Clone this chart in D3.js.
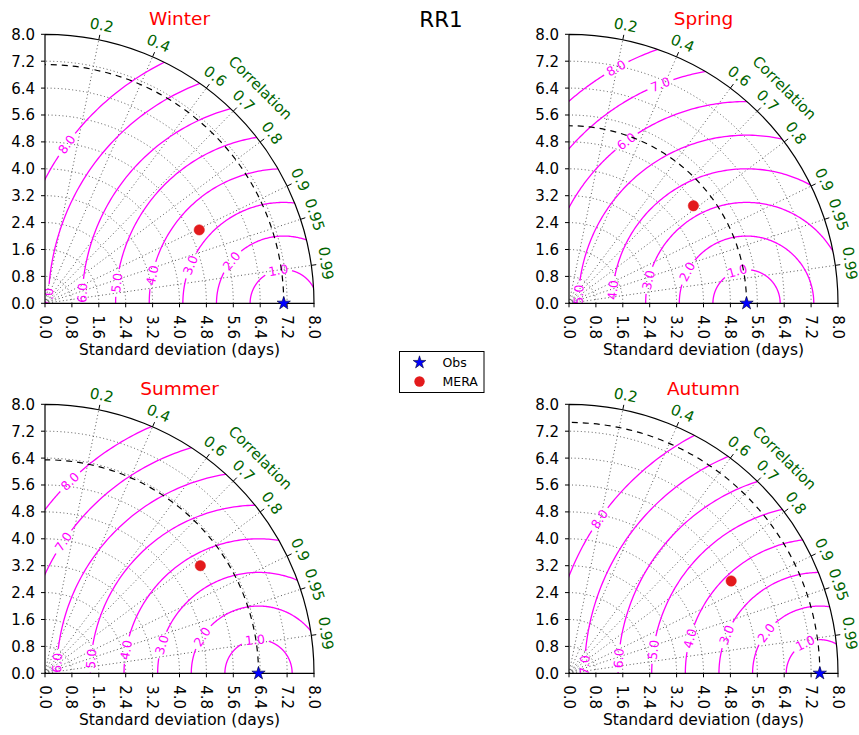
<!DOCTYPE html>
<html>
<head>
<meta charset="utf-8">
<script src="https://cdn.jsdelivr.net/npm/d3@7"></script>
<style>
  body { margin: 0; background: #fff; }
  svg { font-family: "DejaVu Sans", sans-serif; }
</style>
</head>
<body>
<svg id="chart" width="859" height="735"></svg>
<script>
// --- data ---
var seasons = ["Winter", "Spring", "Summer", "Autumn"];
var obsStd = [7.10, 5.28, 6.35, 7.46];
var meraStd = [5.08, 4.70, 5.62, 5.55];
var meraCorr = [0.903, 0.787, 0.822, 0.869];
var stdTicks = [0.0, 0.8, 1.6, 2.4, 3.2, 4.0, 4.8, 5.6, 6.4, 7.2, 8.0];
var corrTicks = [0.2, 0.4, 0.6, 0.7, 0.8, 0.9, 0.95, 0.99];
var rmsLevels = [1.0, 2.0, 3.0, 4.0, 5.0, 6.0, 7.0, 8.0];

// where the inline contour labels sit (angle around the Obs point, degrees)
var labelAngles = [
    [99.5, 141, 157.8, 168, 173, 177, 178.7, 143.8],
    [106, 152, 166.7, 174.3, 177, 126.6, 111.5, 119],
    [96, 147, 163.6, 170, 175, 177, 146, 134.5],
    [116, 143, 157.6, 165, 172, 175.7, 178, 145]
];

var svg = d3.select("#chart");
var R = 269;
var smax = 8.0;
var origins = [[45, 303.3], [569, 303.3], [45, 673.3], [569, 673.3]];
var r = d3.scaleLinear().domain([0, smax]).range([0, R]);
var magenta = "#ff00ff", green = "#006400";

svg.append("text")
    .attr("x", 441).attr("y", 27)
    .attr("text-anchor", "middle")
    .attr("font-size", 21.5)
    .text("RR1");

// screen position for data point (x, y) in std units
function pt(x, y) { return [r(x), -r(y)]; }

seasons.forEach(function (name, i) {
    var g = svg.append("g")
        .attr("transform", "translate(" + origins[i][0] + "," + origins[i][1] + ")");
    var ref = obsStd[i];

    // clip to quarter disk
    var clipId = "clip" + i;
    g.append("clipPath").attr("id", clipId)
        .append("path")
        .attr("d", "M0,0 L" + R + ",0 A" + R + "," + R + " 0 0,0 0," + (-R) + " Z");
    var inner = g.append("g").attr("clip-path", "url(#" + clipId + ")");

    // grid: std arcs
    stdTicks.filter(function (s) { return s > 0 && s < smax; }).forEach(function (s) {
        inner.append("path")
            .attr("d", "M" + r(s) + ",0 A" + r(s) + "," + r(s) + " 0 0,0 0," + (-r(s)))
            .attr("fill", "none").attr("stroke", "#444")
            .attr("stroke-width", 0.9).attr("stroke-dasharray", "1,2.6");
    });
    // grid: correlation rays
    corrTicks.forEach(function (c) {
        var th = Math.acos(c);
        inner.append("line")
            .attr("x1", 0).attr("y1", 0)
            .attr("x2", R * Math.cos(th)).attr("y2", -R * Math.sin(th))
            .attr("stroke", "#444").attr("stroke-width", 0.9)
            .attr("stroke-dasharray", "1,2.6");
    });

    // RMS contours with inline labels
    var line = d3.line();
    rmsLevels.forEach(function (L, k) {
        var phi0 = labelAngles[i][k] * Math.PI / 180;
        var lx = ref + L * Math.cos(phi0), ly = L * Math.sin(phi0);
        var p = pt(lx, ly);
        var a = Math.atan2(-Math.cos(phi0), -Math.sin(phi0)) * 180 / Math.PI;
        if (a > 90) a -= 180;
        if (a <= -90) a += 180;
        var lab = inner.append("text")
            .attr("transform", "translate(" + p[0] + "," + p[1] + ") rotate(" + a + ")")
            .attr("text-anchor", "middle")
            .attr("dy", "0.36em")
            .attr("font-size", 12.5)
            .attr("fill", magenta)
            .text(L.toFixed(1));
        var w = lab.node().getComputedTextLength();
        var half = (w / 2 + 4) / r(L);
        var segs = [[0, phi0 - half], [phi0 + half, Math.PI]];
        segs.forEach(function (sg) {
            var pts = [];
            var n = 180;
            for (var j = 0; j <= n; j++) {
                var ph = sg[0] + (sg[1] - sg[0]) * j / n;
                pts.push(pt(ref + L * Math.cos(ph), L * Math.sin(ph)));
            }
            inner.append("path").attr("d", line(pts))
                .attr("fill", "none").attr("stroke", magenta).attr("stroke-width", 1.3);
        });
    });

    // reference std dashed arc
    inner.append("path")
        .attr("d", "M" + r(ref) + ",0 A" + r(ref) + "," + r(ref) + " 0 0,0 0," + (-r(ref)))
        .attr("fill", "none").attr("stroke", "#000")
        .attr("stroke-width", 1.2).attr("stroke-dasharray", "6,5");

    // frame
    g.append("path")
        .attr("d", "M0," + (-R) + " L0,0 L" + R + ",0 A" + R + "," + R + " 0 0,0 0," + (-R))
        .attr("fill", "none").attr("stroke", "#000").attr("stroke-width", 1.2);

    // std axes
    stdTicks.forEach(function (s) {
        g.append("line").attr("x1", 0).attr("x2", -4)
            .attr("y1", -r(s)).attr("y2", -r(s)).attr("stroke", "#000");
        g.append("text")
            .attr("x", -10).attr("y", -r(s)).attr("dy", "0.36em")
            .attr("text-anchor", "end").attr("font-size", 15)
            .text(s.toFixed(1));
        g.append("line").attr("x1", r(s)).attr("x2", r(s))
            .attr("y1", 0).attr("y2", 4).attr("stroke", "#000");
        g.append("text")
            .attr("transform", "translate(" + r(s) + ",12) rotate(90)")
            .attr("dy", "0.36em")
            .attr("text-anchor", "start").attr("font-size", 15)
            .text(s.toFixed(1));
    });
    g.append("text")
        .attr("x", R / 2).attr("y", 52)
        .attr("text-anchor", "middle").attr("font-size", 15.5)
        .text("Standard deviation (days)");

    // correlation ticks and labels
    corrTicks.forEach(function (c) {
        var th = Math.acos(c);
        g.append("line")
            .attr("x1", R * Math.cos(th)).attr("y1", -R * Math.sin(th))
            .attr("x2", (R + 5) * Math.cos(th)).attr("y2", -(R + 5) * Math.sin(th))
            .attr("stroke", "#000");
        var rr = R + 15;
        g.append("text")
            .attr("transform", "translate(" + rr * Math.cos(th) + "," + (-rr * Math.sin(th)) +
                ") rotate(" + (90 - th * 180 / Math.PI) + ")")
            .attr("text-anchor", "middle").attr("dy", "0.36em")
            .attr("font-size", 15).attr("fill", green)
            .text(String(c));
    });
    var thC = Math.PI / 4, rc = R + 36;
    g.append("text")
        .attr("transform", "translate(" + rc * Math.cos(thC) + "," + (-rc * Math.sin(thC)) + ") rotate(45)")
        .attr("text-anchor", "middle").attr("dy", "0.36em")
        .attr("font-size", 15).attr("fill", green)
        .text("Correlation");

    // title
    g.append("text")
        .attr("x", R / 2).attr("y", -278)
        .attr("text-anchor", "middle").attr("font-size", 18.5)
        .attr("fill", "#ff0000")
        .text(name);

    // points
    g.append("path")
        .attr("d", d3.symbol().type(d3.symbolStar).size(55)())
        .attr("transform", "translate(" + r(ref) + ",0)")
        .attr("fill", "#0000ff").attr("stroke", "#000033").attr("stroke-width", 0.6);
    var th = Math.acos(meraCorr[i]);
    var mp = pt(meraStd[i] * Math.cos(th), meraStd[i] * Math.sin(th));
    g.append("circle")
        .attr("cx", mp[0]).attr("cy", mp[1]).attr("r", 5.2)
        .attr("fill", "#e31a1c").attr("stroke", "#e31a1c").attr("stroke-width", 0.5);
});

// legend
var lg = svg.append("g").attr("transform", "translate(399.5,351.5)");
lg.append("rect").attr("width", 84.5).attr("height", 41)
    .attr("fill", "#fff").attr("stroke", "#000");
lg.append("path")
    .attr("d", d3.symbol().type(d3.symbolStar).size(50)())
    .attr("transform", "translate(20,11)")
    .attr("fill", "#0000ff").attr("stroke", "#000033").attr("stroke-width", 0.6);
lg.append("circle").attr("cx", 20).attr("cy", 30).attr("r", 5.2).attr("fill", "#e31a1c");
lg.append("text").attr("x", 43).attr("y", 11).attr("dy", "0.36em")
    .attr("font-size", 12.5).text("Obs");
lg.append("text").attr("x", 43).attr("y", 30).attr("dy", "0.36em")
    .attr("font-size", 12.5).text("MERA");
</script>
</body>
</html>
